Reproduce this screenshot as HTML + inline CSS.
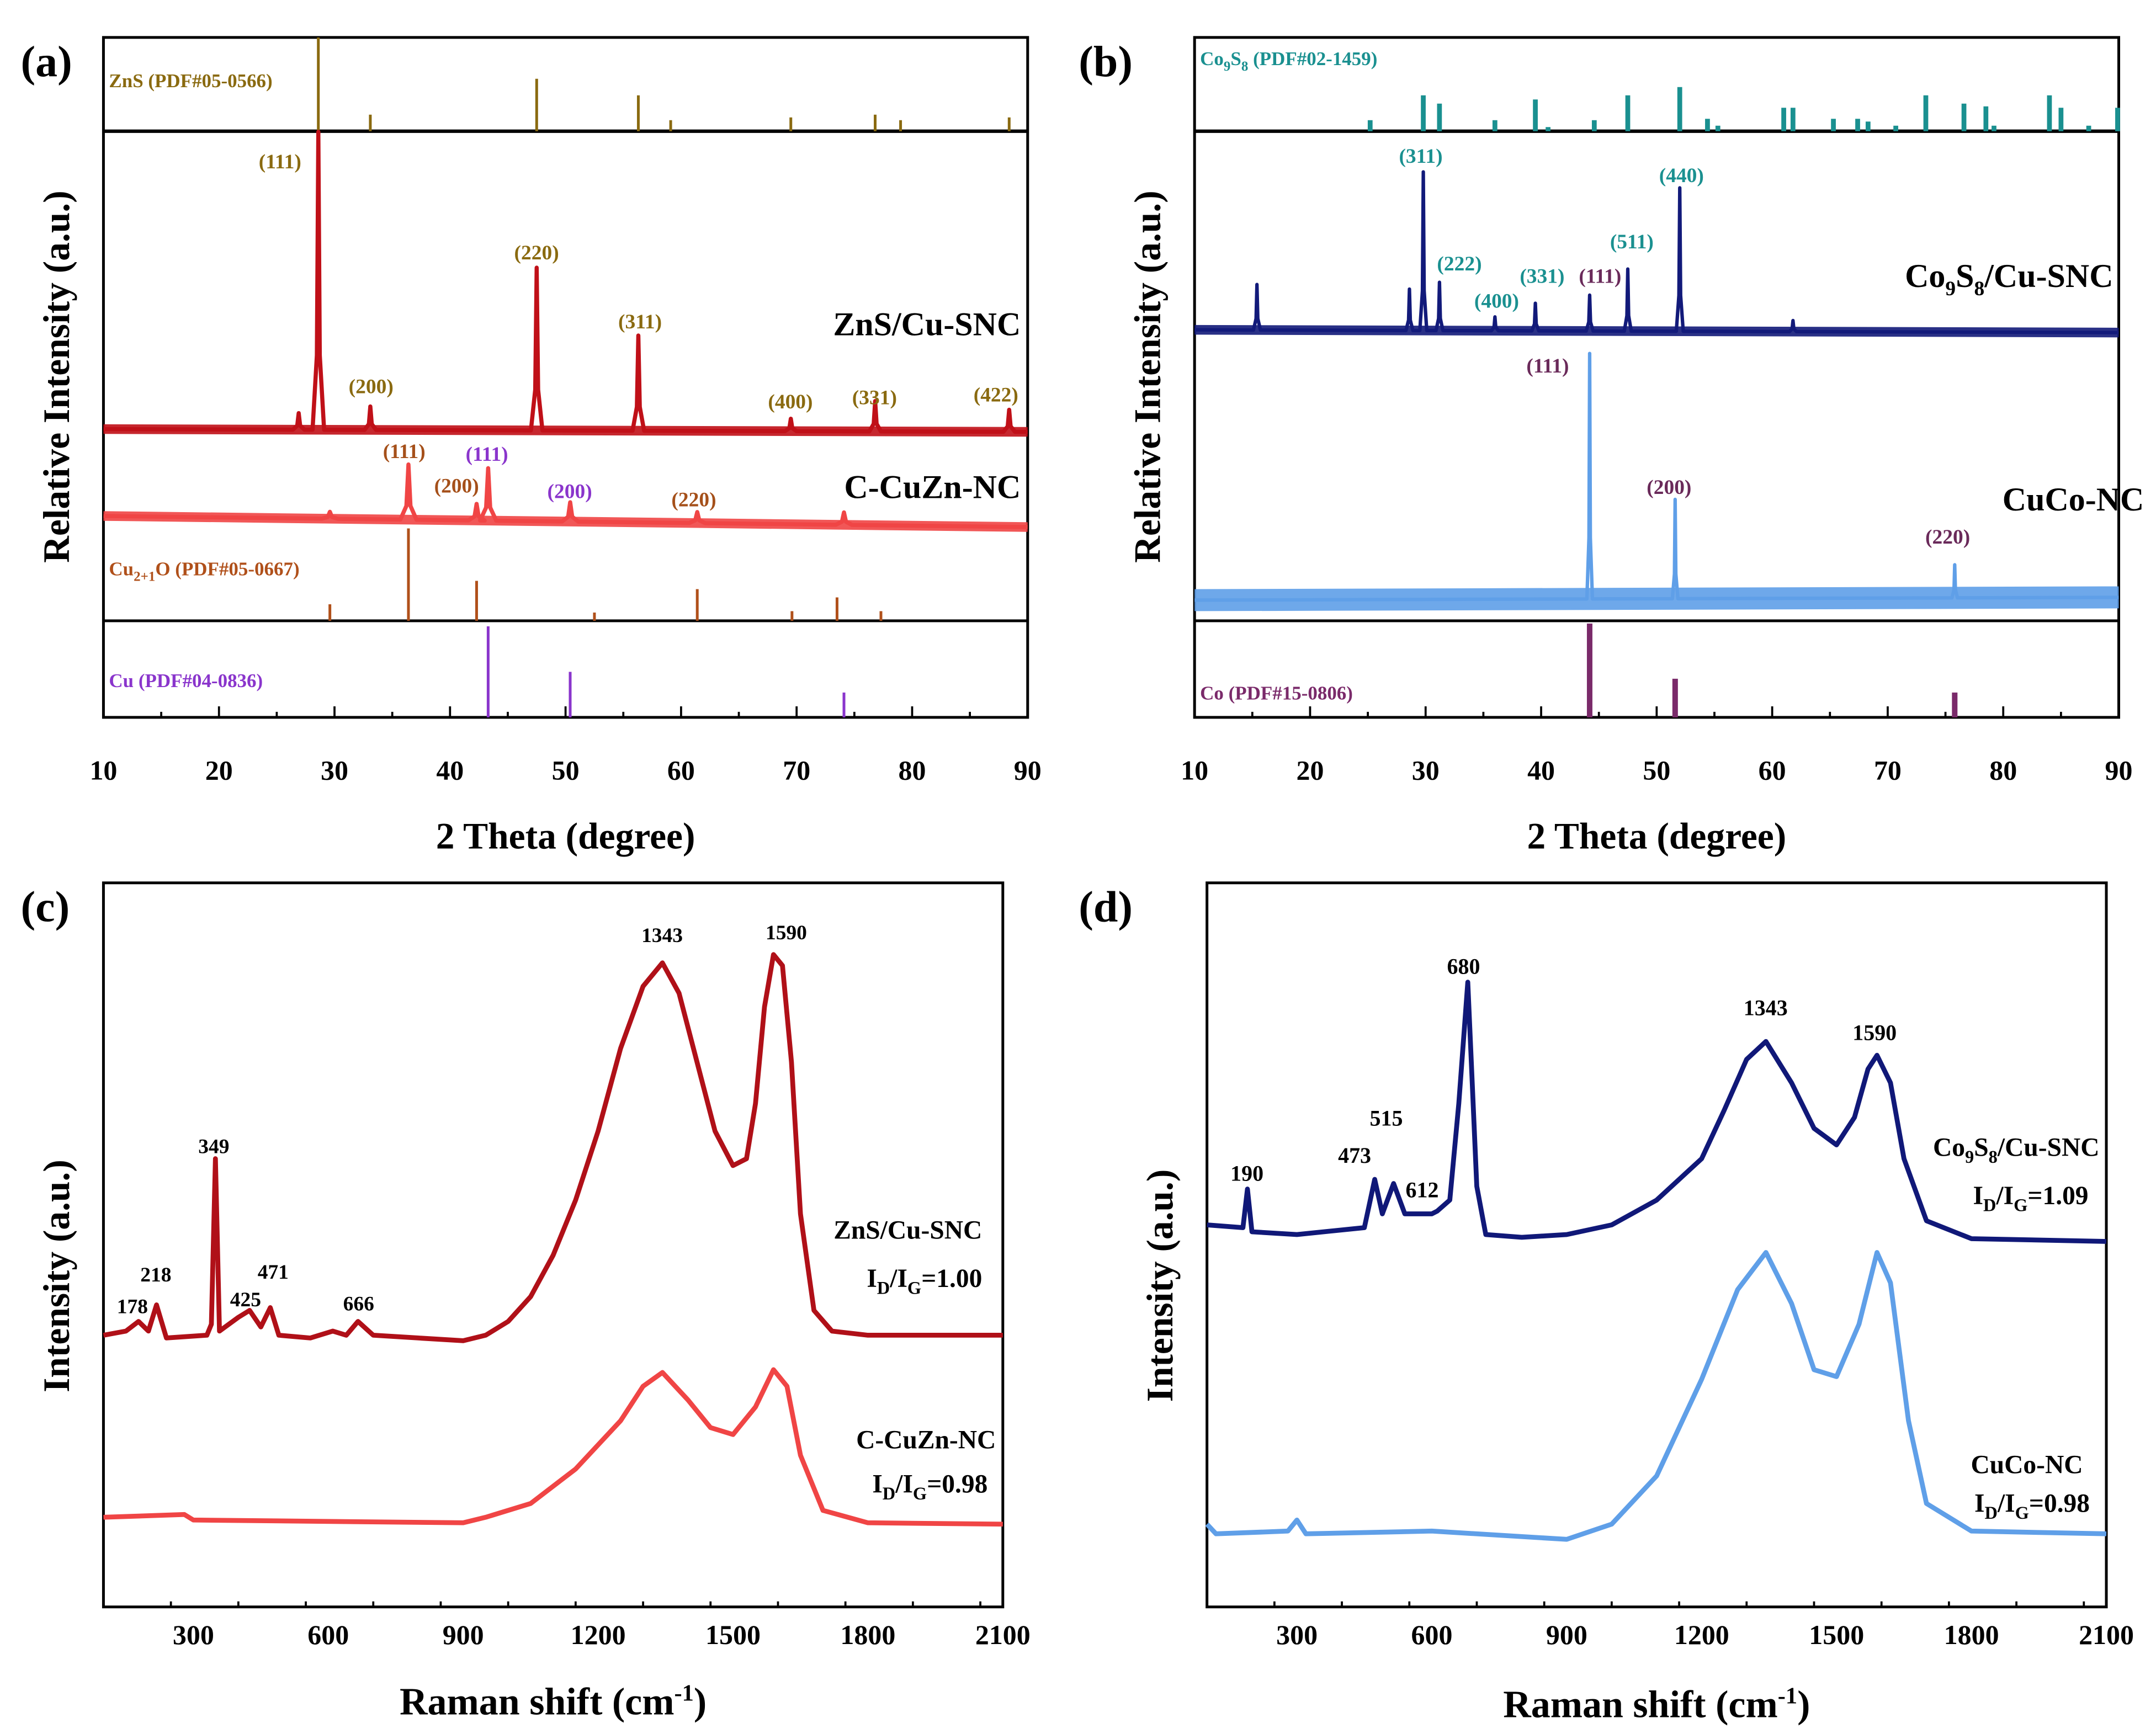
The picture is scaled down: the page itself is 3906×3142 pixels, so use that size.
<!DOCTYPE html>
<html><head><meta charset="utf-8"><style>
html,body{margin:0;padding:0;background:#fff;}
svg{display:block;}
text{font-family:"Liberation Serif",serif;font-weight:bold;}
</style></head><body>
<svg id="fig" width="3906" height="3142" viewBox="0 0 1563 1257" xmlns="http://www.w3.org/2000/svg"></svg>
<script>
// ---------- DATA ----------
const znsRefPos=[28.6,33.1,47.5,56.3,59.1,69.5,76.8,79.0,88.4];
const znsRefH=[68,12,38,26,8,10,12,8,10];
const znsCuPeaks=[26.9,28.6,33.1,47.5,56.3,69.5,76.8,88.4];
const znsCuH=[12,216,17,118,69,9,22,16];
const cCuZnPeaks=[29.6,36.4,42.3,43.3,50.4,61.4,74.1];
const cCuZnH=[5,40,12,38,14,8,9];
const cu2oRefPos=[29.6,36.4,42.3,52.5,61.4,69.6,73.5,77.3];
const cu2oRefH=[12,67,29,6,23,7,17,7];
const cuRefPos=[43.3,50.4,74.1];
const cuRefH=[66,33,18];
const co9s8RefPos=[25.2,29.8,31.2,36.0,39.5,40.6,44.6,47.5,52.0,54.4,55.3,61.0,61.8,65.3,67.4,68.3,70.7,73.3,76.6,78.5,79.2,84.0,85.0,87.4,89.9];
const co9s8RefH=[8,26,20,8,23,3,8,26,32,9,4,17,17,9,9,7,4,26,20,18,4,26,17,4,17];
const co9s8CuPeaks=[15.4,28.6,29.8,31.2,36.0,39.5,44.2,47.5,52.0,61.8];
const co9s8CuH=[33,30,115,35,10,20,26,45,104,8];
const cuCoPeaks=[44.2,51.6,75.8];
const cuCoH=[178,72,24];
const coRefPos=[44.2,51.6,75.8];
const coRefH=[68,28,18];
// Raman (intensity a.u.)
const ramanShiftC1=[100,150,178,200,218,240,330,340,349,358,400,425,450,471,490,560,610,640,666,700,800,900,950,1000,1050,1100,1150,1200,1250,1300,1343,1380,1420,1460,1500,1530,1550,1570,1590,1610,1630,1650,1680,1720,1800,2100];
const ramanIntC1=[197,200,207,200,219,195,197,205,325,200,210,215,203,217,197,195,200,197,207,197,195,193,197,207,225,255,295,345,405,450,467,445,395,345,320,325,365,435,473,465,395,285,215,200,197,197];
const ramanShiftC2=[100,280,300,900,950,1050,1150,1250,1300,1343,1400,1450,1500,1550,1590,1620,1650,1700,1800,2100];
const ramanIntC2=[65,67,63,61,65,75,100,135,160,170,150,130,125,145,172,160,110,70,61,60];
const ramanShiftD1=[100,180,190,200,300,450,473,490,515,540,600,612,640,660,680,700,720,800,900,1000,1100,1200,1250,1300,1343,1400,1450,1500,1540,1570,1590,1620,1650,1700,1800,2100];
const ramanIntD1=[277,275,303,272,270,275,310,285,307,285,285,287,295,365,453,305,270,268,270,277,295,325,360,397,410,380,347,335,355,390,400,380,325,280,267,265];
const ramanShiftD2=[100,120,280,300,320,600,900,1000,1100,1200,1280,1343,1400,1450,1500,1550,1590,1620,1660,1700,1800,2100];
const ramanIntD2=[60,53,55,63,53,55,49,60,95,165,230,257,220,172,167,205,257,235,135,75,55,53];
const xrdTicks=[10,20,30,40,50,60,70,80,90];
const ramanTicks=[300,600,900,1200,1500,1800,2100];

// ---------- HELPERS ----------
const NS="http://www.w3.org/2000/svg";
const svg=document.getElementById('fig');
function mk(tag,attrs,parent){const e=document.createElementNS(NS,tag);for(const k in attrs)e.setAttribute(k,attrs[k]);(parent||svg).appendChild(e);return e;}
function txt(x,y,s,size,fill,anchor,name,parent){const t=mk('text',{x:x,y:y,'font-size':size,fill:fill||'#000','text-anchor':anchor||'middle'},parent);t.innerHTML=s;


return t;}
function xrdX(x0,x1){return v=>x0+(v-10)/80*(x1-x0);}
function ramX(x0,x1){return v=>x0+(v-100)/2000*(x1-x0);}

function sticks(sx,base,pos,h,color,w,name){
  const g=mk('g',{});
  
  
  pos.forEach((p,i)=>{const l=mk('line',{x1:sx(p),x2:sx(p),y1:base,y2:base-h[i],stroke:color,'stroke-width':w},g);
  
  });
}
function peakCurve(sx,baseL,baseR,peaks,h,color,sw,name,hw,band){
  const x0=sx(10),x1=sx(90);
  const base=v=>baseL+(baseR-baseL)*(v-10)/80;
  if(band){
    const b=mk('line',{x1:x0,y1:base(10),x2:x1,y2:base(90),stroke:color,'stroke-width':band,opacity:0.9});
    
    
  }
  let pts=[];
  pts.push([x0,base(10)]);
  const order=peaks.map((p,i)=>i).sort((a,b)=>peaks[a]-peaks[b]);
  order.forEach(i=>{const p=peaks[i];
    pts.push([sx(p-hw*2),base(p-hw*2)]);
    pts.push([sx(p-hw*0.5),base(p)-h[i]*0.25]);
    pts.push([sx(p),base(p)-h[i]]);
    pts.push([sx(p+hw*0.5),base(p)-h[i]*0.25]);
    pts.push([sx(p+hw*2),base(p+hw*2)]);});
  pts.push([x1,base(90)]);
  const p=mk('polyline',{points:pts.map(q=>q.join(',')).join(' '),fill:'none',stroke:color,'stroke-width':sw,'stroke-linejoin':'round'});
  
  
}
function ramanCurve(sx,sy,xs,ys,color,sw,name){
  const pts=xs.map((v,i)=>sx(v)+','+sy(ys[i])).join(' ');
  const p=mk('polyline',{points:pts,fill:'none',stroke:color,'stroke-width':sw,'stroke-linejoin':'round'});
  
  
}
function frame(x0,y0,x1,y1,name){const r=mk('rect',{x:x0,y:y0,width:x1-x0,height:y1-y0,fill:'none',stroke:'#000','stroke-width':2});

}
function ticks(sx,vals,minorStep,lo,hi,yb,labY,name){
  for(let v=lo;v<=hi+1e-6;v+=minorStep){const major=vals.includes(Math.round(v));
    mk('line',{x1:sx(v),x2:sx(v),y1:yb,y2:yb-(major?8:4),stroke:'#000','stroke-width':1.5});}
  vals.forEach(v=>txt(sx(v),labY,v,20,'#000','middle',name+'-tick-label'));
}

// ---------- PANEL A ----------
(function(){
const X0=75,X1=745,sx=xrdX(X0,X1);
frame(X0,27,X1,520,'panel-a-frame');
mk('line',{x1:X0,x2:X1,y1:95,y2:95,stroke:'#000','stroke-width':2.5});
mk('line',{x1:X0,x2:X1,y1:450,y2:450,stroke:'#000','stroke-width':2});
sticks(sx,95,znsRefPos,znsRefH,'#8a6a10',2,'zns-reference');
sticks(sx,450,cu2oRefPos,cu2oRefH,'#b0501a',2,'cu2o-reference');
sticks(sx,520,cuRefPos,cuRefH,'#8a35cc',2,'cu-reference');
peakCurve(sx,311,313,znsCuPeaks,znsCuH,'#c01018',3,'zns-cu-snc-curve',0.25,7);
peakCurve(sx,374,382,cCuZnPeaks,cCuZnH,'#f04545',3,'c-cuzn-nc-curve',0.35,7);
ticks(sx,xrdTicks,5,10,90,520,565,'panel-a-x');
txt(410,615,'2 Theta (degree)',27,'#000','middle','panel-a-x-title');
const yt=txt(0,0,'Relative Intensity (a.u.)',27,'#000','middle','panel-a-y-title');yt.setAttribute('transform','translate(50,273) rotate(-90)');
txt(15,55,'(a)',32,'#000','start','panel-a-label');
txt(79,63,'ZnS (PDF#05-0566)',14,'#8a6a10','start','zns-ref-label');
txt(79,417,'Cu<tspan font-size="10" dy="4">2+1</tspan><tspan dy="-4">O (PDF#05-0667)</tspan>',14,'#b0501a','start','cu2o-ref-label');
txt(79,498,'Cu (PDF#04-0836)',14,'#8a35cc','start','cu-ref-label');
txt(740,243,'ZnS/Cu-SNC',24,'#000','end','zns-cu-snc-label');
txt(740,361,'C-CuZn-NC',24,'#000','end','c-cuzn-nc-label');
const o='#8a6a10',b='#a5501a',p='#8a35cc';
[[203,122,'(111)',o],[269,285,'(200)',o],[389,188,'(220)',o],[464,238,'(311)',o],[573,296,'(400)',o],[634,293,'(331)',o],[722,291,'(422)',o],
 [293,332,'(111)',b],[331,357,'(200)',b],[353,334,'(111)',p],[413,361,'(200)',p],[503,367,'(220)',b]].forEach(a=>txt(a[0],a[1],a[2],15,a[3],'middle','hkl-label-a'));
})();

// ---------- PANEL B ----------
(function(){
const X0=866,X1=1536,sx=xrdX(X0,X1);
frame(X0,27,X1,520,'panel-b-frame');
mk('line',{x1:X0,x2:X1,y1:95,y2:95,stroke:'#000','stroke-width':2.5});
mk('line',{x1:X0,x2:X1,y1:450,y2:450,stroke:'#000','stroke-width':2});
sticks(sx,95,co9s8RefPos,co9s8RefH,'#1a9090',3.5,'co9s8-reference');
sticks(sx,520,coRefPos,coRefH,'#7a2a6a',4,'co-reference');
peakCurve(sx,435,433,cuCoPeaks,cuCoH,'#5f9fe8',2.5,'cuco-nc-curve',0.12,16);
peakCurve(sx,239,241,co9s8CuPeaks,co9s8CuH,'#121a7a',2.5,'co9s8-cu-snc-curve',0.15,7);
ticks(sx,xrdTicks,5,10,90,520,565,'panel-b-x');
txt(1201,615,'2 Theta (degree)',27,'#000','middle','panel-b-x-title');
const yt=txt(0,0,'Relative Intensity (a.u.)',27,'#000','middle','panel-b-y-title');yt.setAttribute('transform','translate(841,273) rotate(-90)');
txt(782,55,'(b)',32,'#000','start','panel-b-label');
txt(870,47,'Co<tspan font-size="10" dy="4">9</tspan><tspan dy="-4">S</tspan><tspan font-size="10" dy="4">8</tspan><tspan dy="-4"> (PDF#02-1459)</tspan>',14,'#1a9090','start','co9s8-ref-label');
txt(870,507,'Co (PDF#15-0806)',14,'#7a2a6a','start','co-ref-label');
txt(1532,208,'Co<tspan font-size="15" dy="6">9</tspan><tspan dy="-6">S</tspan><tspan font-size="15" dy="6">8</tspan><tspan dy="-6">/Cu-SNC</tspan>',24,'#000','end','co9s8-cu-snc-label');
txt(1503,370,'CuCo-NC',24,'#000','middle','cuco-nc-label');
const t='#1a9090',m='#6a2a5a';
[[1030,118,'(311)',t],[1058,196,'(222)',t],[1085,223,'(400)',t],[1118,205,'(331)',t],[1160,205,'(111)',m],[1183,180,'(511)',t],[1219,132,'(440)',t],
 [1122,270,'(111)',m],[1210,358,'(200)',m],[1412,394,'(220)',m]].forEach(a=>txt(a[0],a[1],a[2],15,a[3],'middle','hkl-label-b'));
})();

// ---------- PANEL C ----------
(function(){
const X0=75,X1=727,Y0=640,Y1=1165,sx=ramX(X0,X1),sy=v=>Y1-v;
frame(X0,Y0,X1,Y1,'panel-c-frame');
ramanCurve(sx,sy,ramanShiftC1,ramanIntC1,'#b01018',3.5,'zns-cu-snc-raman');
ramanCurve(sx,sy,ramanShiftC2,ramanIntC2,'#f04545',3.5,'c-cuzn-nc-raman');
ticks(sx,ramanTicks,150,100,2100,Y1,1192,'panel-c-x');
txt(401,1243,'Raman shift (cm<tspan font-size="17" dy="-10">-1</tspan><tspan dy="10">)</tspan>',28,'#000','middle','panel-c-x-title');
const yt=txt(0,0,'Intensity (a.u.)',27,'#000','middle','panel-c-y-title');yt.setAttribute('transform','translate(50,925) rotate(-90)');
txt(15,668,'(c)',32,'#000','start','panel-c-label');
[[96,952,'178'],[113,929,'218'],[155,836,'349'],[178,947,'425'],[198,927,'471'],[260,950,'666'],[480,683,'1343'],[570,681,'1590']].forEach(a=>txt(a[0],a[1],a[2],15,'#000','middle','raman-peak-label-c'));
txt(712,898,'ZnS/Cu-SNC',19,'#000','end','zns-cu-snc-raman-label');
txt(712,933,'I<tspan font-size="13" dy="5">D</tspan><tspan dy="-5">/I</tspan><tspan font-size="13" dy="5">G</tspan><tspan dy="-5">=1.00</tspan>',19,'#000','end','zns-idig');
txt(722,1050,'C-CuZn-NC',19,'#000','end','c-cuzn-nc-raman-label');
txt(716,1082,'I<tspan font-size="13" dy="5">D</tspan><tspan dy="-5">/I</tspan><tspan font-size="13" dy="5">G</tspan><tspan dy="-5">=0.98</tspan>',19,'#000','end','cuzn-idig');
})();

// ---------- PANEL D ----------
(function(){
const X0=875,X1=1527,Y0=640,Y1=1165,sx=ramX(X0,X1),sy=v=>Y1-v;
frame(X0,Y0,X1,Y1,'panel-d-frame');
ramanCurve(sx,sy,ramanShiftD1,ramanIntD1,'#101878',3.5,'co9s8-cu-snc-raman');
ramanCurve(sx,sy,ramanShiftD2,ramanIntD2,'#5f9fe8',3.5,'cuco-nc-raman');
ticks(sx,ramanTicks,150,100,2100,Y1,1192,'panel-d-x');
txt(1201,1245,'Raman shift (cm<tspan font-size="17" dy="-10">-1</tspan><tspan dy="10">)</tspan>',28,'#000','middle','panel-d-x-title');
const yt=txt(0,0,'Intensity (a.u.)',27,'#000','middle','panel-d-y-title');yt.setAttribute('transform','translate(850,932) rotate(-90)');
txt(782,668,'(d)',32,'#000','start','panel-d-label');
[[904,856,'190'],[982,843,'473'],[1005,816,'515'],[1031,868,'612'],[1061,706,'680'],[1280,736,'1343'],[1359,754,'1590']].forEach(a=>txt(a[0],a[1],a[2],16,'#000','middle','raman-peak-label-d'));
txt(1522,838,'Co<tspan font-size="13" dy="5">9</tspan><tspan dy="-5">S</tspan><tspan font-size="13" dy="5">8</tspan><tspan dy="-5">/Cu-SNC</tspan>',19,'#000','end','co9s8-raman-label');
txt(1514,873,'I<tspan font-size="13" dy="5">D</tspan><tspan dy="-5">/I</tspan><tspan font-size="13" dy="5">G</tspan><tspan dy="-5">=1.09</tspan>',19,'#000','end','co9s8-idig');
txt(1510,1068,'CuCo-NC',19,'#000','end','cuco-raman-label');
txt(1515,1096,'I<tspan font-size="13" dy="5">D</tspan><tspan dy="-5">/I</tspan><tspan font-size="13" dy="5">G</tspan><tspan dy="-5">=0.98</tspan>',19,'#000','end','cuco-idig');
})();
</script>
</body></html>
